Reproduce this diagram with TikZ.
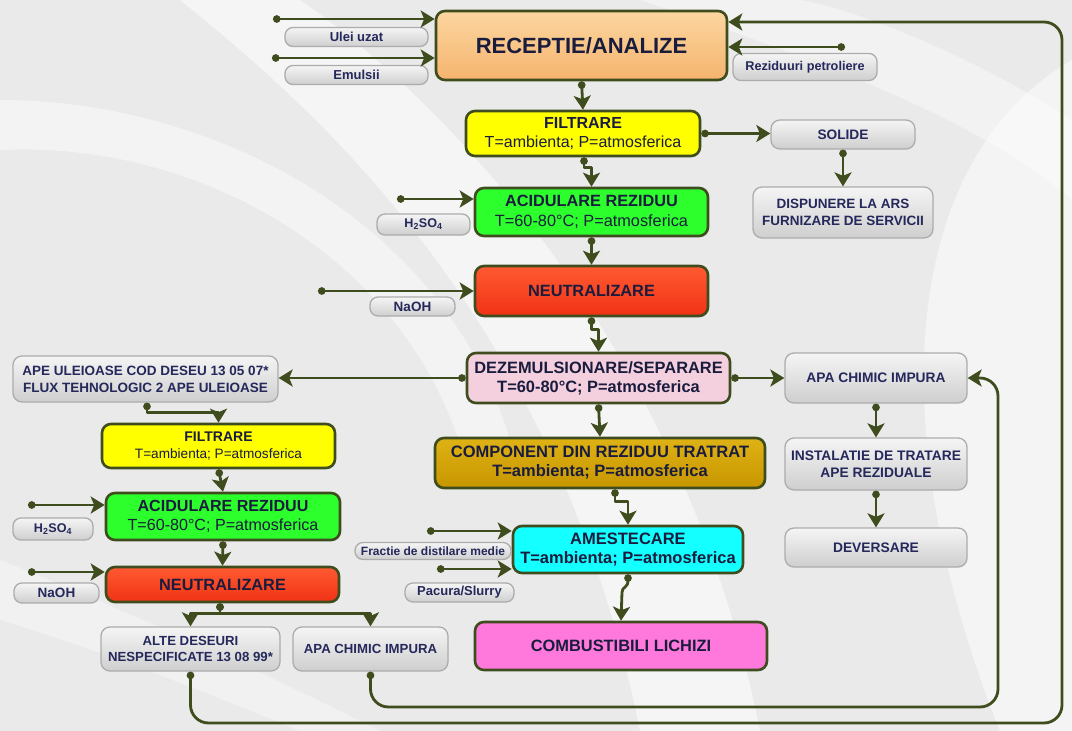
\documentclass[tikz,border=0pt]{standalone}
\usepackage{fontspec}
\setmainfont{Liberation Sans}
\usetikzlibrary{arrows.meta,calc}
\definecolor{flowc}{RGB}{62,76,30}
\definecolor{txtc}{RGB}{26,28,62}
\definecolor{navyc}{RGB}{36,40,90}
\definecolor{bgc}{RGB}{234,234,234}
\definecolor{orangeA}{RGB}{252,214,160}
\definecolor{orangeB}{RGB}{245,180,110}
\definecolor{yellowc}{RGB}{255,255,0}
\definecolor{greenc}{RGB}{44,255,44}
\definecolor{redA}{RGB}{255,90,50}
\definecolor{redB}{RGB}{240,50,20}
\definecolor{pinkc}{RGB}{244,208,222}
\definecolor{goldA}{RGB}{222,178,20}
\definecolor{goldB}{RGB}{200,150,0}
\definecolor{cyanc}{RGB}{20,255,255}
\definecolor{magc}{RGB}{255,120,220}
\newcommand{\fs}[1]{\fontsize{#1}{#1}\selectfont}
\newcommand{\fsb}[2]{\fontsize{#1}{#2}\selectfont}
\begin{document}
\begin{tikzpicture}[x=1pt,y=-1pt,
  flow/.style={draw=flowc, line width=2.8pt, line join=round,
    {Circle[length=7.5pt]}-{Stealth[length=14pt,width=17pt,inset=3.5pt]}},
  loopline/.style={flow, rounded corners=18pt},
  proc/.style={draw=flowc, line width=2.6pt, rounded corners=9pt, text=txtc,
    align=center, inner sep=0pt},
  gbox/.style={draw=gray!65, line width=1.3pt, rounded corners=9pt,
    top color=gray!8, bottom color=gray!38, text=navyc, font=\bfseries,
    align=center, inner sep=0pt},
  pill/.style={gbox, rounded corners=8pt},
]
\useasboundingbox (0,0) rectangle (1072,731);
% background
\fill[bgc] (0,0) rectangle (1072,731);
\fill[white,opacity=0.55] (180,0) .. controls (330,120) and (560,330) .. (640,731) -- (760,731) .. controls (680,330) and (430,90) .. (300,0) -- cycle;
\fill[white,opacity=0.45] (0,150) .. controls (200,140) and (420,260) .. (470,480) -- (520,480) .. controls (470,230) and (220,100) .. (0,100) -- cycle;
\fill[white,opacity=0.5] (1072,60) .. controls (900,160) and (880,430) .. (1000,731) -- (1072,731) -- cycle;
\fill[white,opacity=0.4] (640,0) .. controls (820,60) and (980,120) .. (1072,200) -- (1072,120) .. controls (980,60) and (860,10) .. (800,0) -- cycle;
\fill[white,opacity=0.35] (0,560) .. controls (150,620) and (300,690) .. (380,731) -- (300,731) .. controls (200,690) and (100,650) .. (0,620) -- cycle;

% ===== nodes =====
\node[proc, top color=orangeA, bottom color=orangeB, minimum width=291pt, minimum height=69pt, font=\bfseries\fs{22}] (recep) at (581.5,45.5) {RECEPTIE/ANALIZE};
\node[pill, minimum width=143pt, minimum height=19pt, font=\bfseries\fs{13}] (ulei) at (356.5,37) {Ulei uzat};
\node[pill, minimum width=143pt, minimum height=19pt, font=\bfseries\fs{13}] (emul) at (356.5,75) {Emulsii};
\node[pill, minimum width=144pt, minimum height=27pt, font=\bfseries\fs{12.7}] (rezid) at (805,67) {Reziduuri petroliere};

\node[proc, fill=yellowc, minimum width=234pt, minimum height=45pt, font=\fsb{16}{19}] (filt1) at (583,133.5)
  {\textbf{FILTRARE}\\T=ambienta; P=atmosferica};
\node[gbox, minimum width=144pt, minimum height=29pt, font=\bfseries\fs{13.7}] (solide) at (843,134.5) {SOLIDE};
\node[gbox, minimum width=180pt, minimum height=51pt, font=\bfseries\fsb{13.5}{17}] (disp) at (843,212.5) {DISPUNERE LA ARS\\FURNIZARE DE SERVICII};

\node[proc, fill=greenc, minimum width=233pt, minimum height=48pt, font=\fsb{16.3}{20}] (acid1) at (591.5,212)
  {\textbf{ACIDULARE REZIDUU}\\T=60-80°C; P=atmosferica};
\node[pill, minimum width=93pt, minimum height=21pt, font=\bfseries\fs{12.6}] (hso1) at (423.5,224.5) {H\textsubscript{2}SO\textsubscript{4}};

\node[proc, top color=redA, bottom color=redB, minimum width=233pt, minimum height=50pt, font=\bfseries\fs{16.3}] (neut1) at (591.5,291) {NEUTRALIZARE};
\node[pill, minimum width=85pt, minimum height=19pt, font=\bfseries\fs{13.5}] (naoh1) at (412.5,306.5) {NaOH};

\node[proc, fill=pinkc, minimum width=263pt, minimum height=50pt, font=\bfseries\fsb{16.4}{19}] (dezem) at (598.5,378)
  {DEZEMULSIONARE/SEPARARE\\T=60-80°C; P=atmosferica};

\node[gbox, minimum width=265pt, minimum height=46pt, font=\bfseries\fsb{13.5}{17}] (apeu) at (145.5,379)
  {APE ULEIOASE COD DESEU 13 05 07*\\FLUX TEHNOLOGIC 2 APE ULEIOASE};

\node[gbox, minimum width=182pt, minimum height=50pt, font=\bfseries\fs{13.8}] (apar) at (876,378) {APA CHIMIC IMPURA};
\node[gbox, minimum width=182pt, minimum height=52pt, font=\bfseries\fsb{13.8}{17}] (instal) at (876,464) {INSTALATIE DE TRATARE\\APE REZIDUALE};
\node[gbox, minimum width=182pt, minimum height=39pt, font=\bfseries\fs{13.8}] (dever) at (876,547.5) {DEVERSARE};

\node[proc, top color=goldA, bottom color=goldB, minimum width=330pt, minimum height=50pt, font=\bfseries\fsb{16.5}{19}] (compo) at (600,463)
  {COMPONENT DIN REZIDUU TRATRAT\\T=ambienta; P=atmosferica};

\node[proc, fill=cyanc, minimum width=230pt, minimum height=47pt, font=\bfseries\fsb{16.5}{19}] (amest) at (628,549.5)
  {AMESTECARE\\T=ambienta; P=atmosferica};
\node[pill, minimum width=156pt, minimum height=17pt, font=\bfseries\fs{12}] (fract) at (433,551) {Fractie de distilare medie};
\node[pill, minimum width=109pt, minimum height=19pt, font=\bfseries\fs{13}] (pacura) at (459.5,592.5) {Pacura/Slurry};

\node[proc, fill=magc, minimum width=292pt, minimum height=48pt, font=\bfseries\fs{16.4}] (comb) at (621,646) {COMBUSTIBILI LICHIZI};

\node[proc, fill=yellowc, minimum width=233pt, minimum height=44pt, font=\fsb{13.6}{17}] (filt2) at (218.5,446)
  {{\bfseries\fs{14}FILTRARE}\\T=ambienta; P=atmosferica};
\node[proc, fill=greenc, minimum width=234pt, minimum height=47pt, font=\fsb{16.1}{19.5}] (acid2) at (223,516.5)
  {\textbf{ACIDULARE REZIDUU}\\T=60-80°C; P=atmosferica};
\node[pill, minimum width=80pt, minimum height=22pt, font=\bfseries\fs{12.6}] (hso2) at (53,529) {H\textsubscript{2}SO\textsubscript{4}};
\node[proc, top color=redA, bottom color=redB, minimum width=233pt, minimum height=35pt, font=\bfseries\fs{16.3}] (neut2) at (222.5,584.5) {NEUTRALIZARE};
\node[pill, minimum width=85pt, minimum height=20pt, font=\bfseries\fs{13.5}] (naoh2) at (56.5,593) {NaOH};

\node[gbox, minimum width=179pt, minimum height=44pt, font=\bfseries\fsb{13.2}{16}] (alte) at (190.5,649) {ALTE DESEURI\\NESPECIFICATE 13 08 99*};
\node[gbox, minimum width=155pt, minimum height=44pt, font=\bfseries\fs{13.2}] (apab) at (370.5,649) {APA CHIMIC IMPURA};

% ===== free ends =====
\coordinate (inU) at (273,19);
\coordinate (inE) at (272,58);
\coordinate (inR) at (845,47);
\coordinate (inH1) at (397,199);
\coordinate (inN1) at (318,291);
\coordinate (inH2) at (28,505);
\coordinate (inN2) at (28,572);
\coordinate (inF) at (427,531);
\coordinate (inP) at (437,569);

% ===== connectors =====
\draw[flow] (inU) -- (inU -| recep.west);
\draw[flow] (inE) -- (inE -| recep.west);
\draw[flow] (inR) -- (inR -| recep.east);
\draw[flow] (recep.south) -- (filt1.north);
\draw[flow] (filt1.east) -- (filt1.east -| solide.west);
\draw[flow] (solide.south) -- (disp.north);
\draw[flow] ([xshift=1pt]filt1.south) -- ++(0,10) -| (acid1.north);
\draw[flow] (inH1) -- (inH1 -| acid1.west);
\draw[flow] (acid1.south) -- (neut1.north);
\draw[flow] (inN1) -- (inN1 -| neut1.west);
\draw[flow] (neut1.south) -- ++(0,12) -| (dezem.north);
\draw[flow] (dezem.west) -- (apeu.east |- dezem.west);
\draw[flow] (dezem.east) -- (apar.west);
\draw[flow] (apar.south) -- (instal.north);
\draw[flow] (instal.south) -- (dever.north);
\draw[flow] (dezem.south) -- (compo.north);
\draw[flow] ([xshift=15pt]compo.south) -- ++(0,12) -| (amest.north);
\draw[flow] (inF) -- (inF -| amest.west);
\draw[flow] (inP) -- (inP -| amest.west);
\draw[flow] (amest.south) .. controls ++(0,14) and ++(0,-6) .. ++(-6,18) -- (comb.north);
% left column
\draw[flow] ([xshift=1.5pt]apeu.south) -- ++(0,10) -| (filt2.north);
\draw[flow] (filt2.south) -- (acid2.north);
\draw[flow] (inH2) -- (inH2 -| acid2.west);
\draw[flow] (acid2.south) -- (neut2.north);
\draw[flow] (inN2) -- (inN2 -| neut2.west);
\draw[flow] ([xshift=-2.5pt]neut2.south) -- ++(0,10) -| (alte.north);
\draw[flow] ([xshift=-2.5pt]neut2.south) -- ++(0,10) -| (apab.north);
% loops
\draw[loopline] (alte.south) -- (alte.south |- 0,723) -- (1062,723) -- (1062,22) -- (recep.east |- 0,22);
\draw[loopline] (apab.south) -- (apab.south |- 0,707) -- (998,707) -- (998,378) -- (apar.east);
\end{tikzpicture}
\end{document}
